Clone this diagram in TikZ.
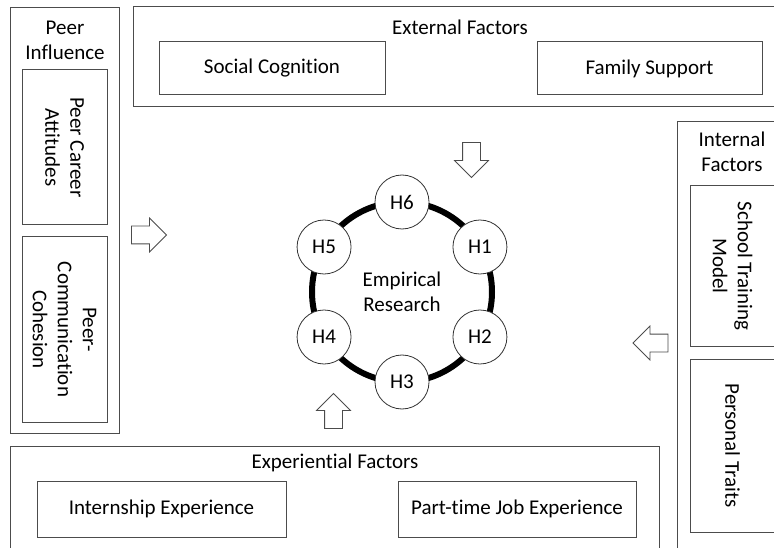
\documentclass[tikz,border=0pt]{standalone}
\usepackage{fontspec}
\setmainfont{Carlito}[Ligatures=NoCommon]
\usepackage{tikz}
\usetikzlibrary{shapes.arrows,calc}

\begin{document}
\begin{tikzpicture}[x=1pt,y=1pt,
    every node/.style={font=\fontsize{21}{25}\selectfont},
    box/.style={draw=black!70,line width=1pt,inner sep=0pt,align=center},
    hnode/.style={circle,draw=black!80,fill=white,line width=0.8pt,minimum size=54pt,inner sep=0pt},
    blockarr/.style={single arrow,draw=black!70,fill=white,line width=0.8pt,minimum height=35pt,
        inner xsep=0pt,inner ysep=8.5pt,single arrow head extend=8pt}]
    \useasboundingbox (0,0) rectangle (774,547);
    \clip (0,0) rectangle (774,547);
    % outer groups
    \node[box,minimum width=109pt,minimum height=425pt] (peer) at (64.5,326.5) {};
    \node[box,minimum width=647pt,minimum height=100pt] (ext) at (456.5,490) {};
    \node[box,minimum width=113pt,minimum height=438pt] (int) at (733.5,206) {};
    \node[box,minimum width=649pt,minimum height=114pt] (expr) at (334.5,44) {};
    % group titles
    \node[align=center] (peerlbl) at (65,507) {Peer\\Influence};
    \node (extlbl) at (460,520) {External Factors};
    \node[align=center] (intlbl) at (732,395) {Internal\\Factors};
    \node (exprlbl) at (335,84) {Experiential Factors};
    % factor boxes
    \node[box,rotate=-90,minimum width=155pt,minimum height=85pt] (attit) at (64.5,399.5) {Peer Career\\Attitudes};
    \node[box,rotate=-90,minimum width=185pt,minimum height=85pt] (cohes) at (64.5,217.5) {Peer-\\Communication\\Cohesion};
    \node[box,minimum width=226pt,minimum height=53pt] (social) at (272,478.5) {Social Cognition};
    \node[box,minimum width=225pt,minimum height=53pt] (family) at (649.5,478.5) {Family Support};
    \node[box,rotate=-90,minimum width=160pt,minimum height=85pt] (school) at (732.5,281) {School Training\\Model};
    \node[box,rotate=-90,minimum width=173pt,minimum height=85pt] (traits) at (732.5,101.5) {Personal Traits};
    \node[box,minimum width=249pt,minimum height=56pt] (intern) at (161.5,38) {Internship Experience};
    \node[box,minimum width=238pt,minimum height=56pt] (parttime) at (517,38) {Part-time Job Experience};
    % hypotheses ring
    \coordinate (ring) at (402,255);
    \draw[line width=6pt] (ring) circle (90pt);
    \node[align=center] (emp) at (ring) {Empirical\\Research};
    \foreach \i/\a in {1/30,2/-30,3/-90,4/-150,5/150,6/90}
        \node[hnode] (h\i) at ($(ring)+(\a:90)$) {H\i};
    % block arrows
    \node[blockarr] (rarr) at (144.5,312) {};
    \node[blockarr,rotate=-90] (darr) at (471.5,391.5) {};
    \node[blockarr,rotate=180] (larr) at (655,204) {};
    \node[blockarr,rotate=90] (uarr) at (333.5,131.5) {};
\end{tikzpicture}
\end{document}
